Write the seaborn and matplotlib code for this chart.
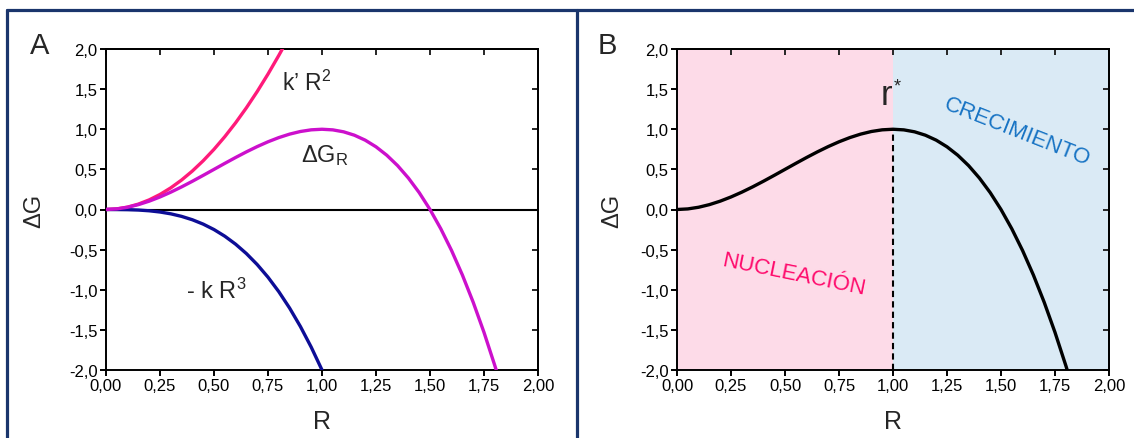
import matplotlib
matplotlib.use("Agg")
import matplotlib.pyplot as plt
from matplotlib.lines import Line2D
import seaborn as sns

# ---------------- data ----------------
R_kp = [0.00, 0.05, 0.10, 0.15, 0.20, 0.25, 0.30, 0.35, 0.40, 0.45, 0.50,
        0.55, 0.60, 0.65, 0.70, 0.75, 0.80, 0.82]
kpR2 = [0.000, 0.0075, 0.030, 0.0675, 0.120, 0.1875, 0.270, 0.3675, 0.480,
        0.6075, 0.750, 0.9075, 1.080, 1.2675, 1.470, 1.6875, 1.920, 2.017]

R_k = [0.00, 0.05, 0.10, 0.15, 0.20, 0.25, 0.30, 0.35, 0.40, 0.45, 0.50,
       0.55, 0.60, 0.65, 0.70, 0.75, 0.80, 0.85, 0.90, 0.95, 1.00]
mkR3 = [0.000, -0.00025, -0.002, -0.00675, -0.016, -0.03125, -0.054,
        -0.08575, -0.128, -0.18225, -0.250, -0.33275, -0.432, -0.54925,
        -0.686, -0.84375, -1.024, -1.22825, -1.458, -1.71475, -2.000]

R_dg = [0.00, 0.05, 0.10, 0.15, 0.20, 0.25, 0.30, 0.35, 0.40, 0.45, 0.50,
        0.55, 0.60, 0.65, 0.70, 0.75, 0.80, 0.85, 0.90, 0.95, 1.00, 1.05,
        1.10, 1.15, 1.20, 1.25, 1.30, 1.35, 1.40, 1.45, 1.50, 1.55, 1.60,
        1.65, 1.70, 1.75, 1.80, 1.81]
dG = [0.000, 0.00725, 0.028, 0.06075, 0.104, 0.15625, 0.216, 0.28175, 0.352,
      0.42525, 0.500, 0.57475, 0.648, 0.71825, 0.784, 0.84375, 0.896,
      0.93925, 0.972, 0.99275, 1.000, 0.99225, 0.968, 0.92575, 0.864,
      0.78125, 0.676, 0.54675, 0.392, 0.21025, 0.000, -0.24025, -0.512,
      -0.81675, -1.156, -1.53125, -1.944, -2.031]

r_star = 1.0
x_ticks = [0.00, 0.25, 0.50, 0.75, 1.00, 1.25, 1.50, 1.75, 2.00]
x_tick_labels = ["0,00", "0,25", "0,50", "0,75", "1,00", "1,25", "1,50", "1,75", "2,00"]
y_ticks = [-2.0, -1.5, -1.0, -0.5, 0.0, 0.5, 1.0, 1.5, 2.0]
y_tick_labels = ["-2,0", "-1,5", "-1,0", "-0,5", "0,0", "0,5", "1,0", "1,5", "2,0"]

# ---------------- style ----------------
sns.set_theme(style="ticks")
FONT = ["Liberation Sans", "DejaVu Sans"]
plt.rcParams["font.family"] = FONT
plt.rcParams["mathtext.fontset"] = "custom"
plt.rcParams["mathtext.rm"] = "Liberation Sans"
plt.rcParams["mathtext.it"] = "Liberation Sans:italic"
plt.rcParams["mathtext.bf"] = "Liberation Sans:bold"

SPINE_W = 1.4
TICK_LEN = 4.5
TICK_FS = 12

fig = plt.figure(figsize=(11.34, 4.39), dpi=100)
axA = fig.add_axes([106 / 1134, 1 - 371 / 439, 432 / 1134, 321 / 439])
axB = fig.add_axes([677 / 1134, 1 - 371 / 439, 432 / 1134, 321 / 439])


def style_axes(ax, label_x):
    ax.set_xlim(0, 2)
    ax.set_ylim(-2, 2)
    ax.set_xticks(x_ticks)
    ax.set_xticklabels(x_tick_labels)
    ax.set_yticks(y_ticks)
    ax.set_yticklabels(y_tick_labels)
    for s in ax.spines.values():
        s.set_visible(True)
        s.set_linewidth(SPINE_W)
        s.set_color("black")
    ax.tick_params(direction="out", length=TICK_LEN, width=SPINE_W,
                   labelsize=TICK_FS, colors="black", pad=1.5)
    ax.tick_params(axis="x", pad=1)
    # inward ticks on top and right
    top = ax.secondary_xaxis("top")
    top.set_xticks(x_ticks)
    top.set_xticklabels([])
    top.tick_params(direction="in", length=TICK_LEN, width=SPINE_W)
    top.spines["top"].set_linewidth(SPINE_W)
    right = ax.secondary_yaxis("right")
    right.set_yticks(y_ticks)
    right.set_yticklabels([])
    right.tick_params(direction="in", length=TICK_LEN, width=SPINE_W)
    right.spines["right"].set_linewidth(SPINE_W)

    ax.set_xlabel("R", fontsize=18)
    ax.xaxis.set_label_coords(0.5, -0.16)
    ax.xaxis.label.set_verticalalignment("center")
    ax.set_ylabel("ΔG", fontsize=17)
    ax.yaxis.set_label_coords(label_x, 0.5)
    ax.yaxis.label.set_verticalalignment("center")


# ---------------- panel A ----------------
axA.axhline(0, color="black", lw=1.5, zorder=1)
sns.lineplot(x=R_kp, y=kpR2, ax=axA, color="#ff1a7a", lw=2.4, sort=False,
             estimator=None, zorder=3)
sns.lineplot(x=R_k, y=mkR3, ax=axA, color="#0d0d96", lw=2.4, sort=False,
             estimator=None, zorder=3)
sns.lineplot(x=R_dg, y=dG, ax=axA, color="#cc10cc", lw=2.4, sort=False,
             estimator=None, zorder=3)
style_axes(axA, -0.165)

axA.text(0.815, 1.58, "k’ R$^\\mathregular{2}$", fontsize=16.5, ha="left", va="center")
axA.text(0.905, 0.69, "ΔG$_\\mathregular{R}$", fontsize=17, ha="left", va="center")
axA.text(0.372, -1.01, "- k R$^\\mathregular{3}$", fontsize=17, ha="left", va="center")

# ---------------- panel B ----------------
axB.axvspan(0, r_star, color="#fddbe8", lw=0, zorder=0)
axB.axvspan(r_star, 2, color="#daeaf5", lw=0, zorder=0)
axB.plot([r_star, r_star], [-2, 1.0], color="black", lw=1.5, ls=(0, (3, 2)), zorder=2)
sns.lineplot(x=R_dg, y=dG, ax=axB, color="black", lw=2.4, sort=False,
             estimator=None, zorder=3)
style_axes(axB, -0.15)

axB.text(0.997, 1.31, "r", fontsize=25, ha="right", va="baseline")
axB.text(1.003, 1.64, "*", fontsize=13, ha="left", va="top")
axB.text(0.542, -0.81, "NUCLEACIÓN", fontsize=16, color="#ff0a6c",
         ha="center", va="center", rotation=-11.5)
axB.text(1.575, 0.975, "CRECIMIENTO", fontsize=16, color="#1874c4",
         ha="center", va="center", rotation=-21.5)

# ---------------- panel letters ----------------
fig.text(40 / 1134, 1 - 46 / 439, "A", fontsize=21, ha="center", va="center")
fig.text(607 / 1134, 1 - 46 / 439, "B", fontsize=21, ha="center", va="center")

# ---------------- panel frames ----------------
FRAME = "#1a356c"
y_top = 1 - 11 / 439
fig.add_artist(Line2D([7 / 1134, 1.0], [y_top, y_top], transform=fig.transFigure,
                      color=FRAME, lw=2.3))
fig.add_artist(Line2D([7 / 1134, 7 / 1134], [0, y_top], transform=fig.transFigure,
                      color=FRAME, lw=2.3))
fig.add_artist(Line2D([577 / 1134, 577 / 1134], [0, y_top], transform=fig.transFigure,
                      color=FRAME, lw=2.3))

fig.savefig("out.png", dpi=100)
